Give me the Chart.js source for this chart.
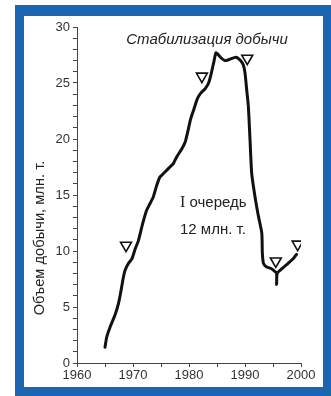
<!DOCTYPE html>
<html>
<head>
<meta charset="utf-8">
<script src="https://cdn.jsdelivr.net/npm/chart.js@4/dist/chart.umd.min.js"></script>
<style>
  html, body { margin: 0; padding: 0; background: #fff; }
  #wrap { position: relative; width: 331px; height: 396px; overflow: hidden; }
  #frame { position: absolute; left: 15px; top: 5px; width: 316px; height: 391px; background: #1b65b1; }
  #inner { position: absolute; left: 9px; top: 11px; right: 8px; bottom: 9px; background: #fff; }
  canvas { position: absolute; left: 0; top: 0; }
</style>
</head>
<body>
<div id="wrap">
  <div id="frame"><div id="inner"></div></div>
  <canvas id="c" width="331" height="396"></canvas>
</div>
<script>
// Production curve (years, mln t)
const years = [1965.0,1965.3,1965.9,1966.8,1967.4,1967.8,1968.3,1968.6,1969.2,1969.8,1970.4,1970.95,1971.7,1972.4,1973.0,1973.6,1974.2,1974.8,1975.4,1976.0,1976.6,1977.2,1977.8,1978.7,1979.3,1979.8,1980.3,1980.9,1981.5,1982.1,1982.9,1983.5,1983.9,1984.4,1984.8,1985.1,1985.6,1986.4,1987.2,1988.4,1989.2,1989.7,1990.0,1990.3,1990.6,1990.9,1991.2,1991.8,1992.4,1993.0,1993.1,1993.3,1993.8,1994.8,1995.5,1995.65,1995.65,1995.75,1996.55,1997.7,1998.6,1999.2];
const production = [1.4,2.3,3.2,4.3,5.3,6.3,7.7,8.3,8.9,9.3,10.2,10.9,12.4,13.6,14.2,14.8,15.8,16.6,16.9,17.2,17.5,17.8,18.4,19.1,19.7,20.7,21.8,22.7,23.6,24.1,24.5,25.0,25.7,26.8,27.7,27.6,27.3,27.0,27.1,27.3,27.0,26.6,25.9,24.4,22.9,19.9,16.9,14.8,13.1,11.6,9.8,8.9,8.6,8.4,8.1,8.0,7.0,8.0,8.4,8.9,9.3,9.7];
// Stage markers (inverted triangles)
const markerYears = [1968.75,1982.3,1990.4,1995.5,1999.4];
const markerValues = [10.5,25.6,27.2,9.1,10.6];
// Axis ticks
const xTickLabels = [1960,1970,1980,1990,2000];
const yTickLabels = [0,5,10,15,20,25,30];
// Texts
const yTitle = 'Объем добычи, млн. т.';
const stabText = 'Стабилизация добычи';
const stageText = ['I', ' очередь'];
const stageAmount = '12 млн. т.';

const lineData = years.map((x, i) => ({ x: x, y: production[i] }));
const markerData = markerYears.map((x, i) => ({ x: x, y: markerValues[i] }));

const textPlugin = {
  id: 'texts',
  afterDraw(chart) {
    const ctx = chart.ctx;
    ctx.save();
    ctx.fillStyle = '#222';
    ctx.textBaseline = 'middle';
    // stabilization label
    ctx.font = 'italic 15px "Liberation Sans", Arial, sans-serif';
    ctx.textAlign = 'center';
    ctx.fillText(stabText, 207, 40);
    // stage label
    ctx.textAlign = 'left';
    ctx.font = '16px "Liberation Serif", "Times New Roman", serif';
    ctx.fillText(stageText[0], 180, 203);
    const w = ctx.measureText(stageText[0]).width;
    ctx.font = '15px "Liberation Sans", Arial, sans-serif';
    ctx.fillText(stageText[1], 180 + w, 203);
    ctx.fillText(stageAmount, 180, 230);
    // y title
    ctx.translate(40, 238);
    ctx.rotate(-Math.PI / 2);
    ctx.textAlign = 'center';
    ctx.font = '14.7px "Liberation Sans", Arial, sans-serif';
    ctx.fillText(yTitle, 0, 0);
    ctx.restore();
  }
};

new Chart(document.getElementById('c'), {
  type: 'scatter',
  data: {
    datasets: [
      {
        data: lineData,
        showLine: true,
        borderColor: '#111',
        borderWidth: 3,
        pointRadius: 0,
        tension: 0.2,
        borderJoinStyle: 'round',
        borderCapStyle: 'round'
      },
      {
        data: markerData,
        showLine: false,
        pointStyle: 'triangle',
        rotation: 180,
        radius: 6.3,
        pointRadius: 6.3,
        pointBorderWidth: 1.6,
        pointBorderColor: '#111',
        pointBackgroundColor: '#fff'
      }
    ]
  },
  options: {
    responsive: false,
    animation: false,
    events: [],
    layout: { padding: { left: 0, top: 27, right: 30, bottom: 0 } },
    plugins: { legend: { display: false }, tooltip: { enabled: false } },
    scales: {
      x: {
        type: 'linear',
        min: 1960, max: 2000,
        afterFit: s => { s.height = 33; },
        grid: { drawOnChartArea: false, drawTicks: true, tickLength: 4, color: '#444', lineWidth: 1 },
        border: { display: true, color: '#444', width: 1 },
        ticks: {
          stepSize: 5, autoSkip: false, maxRotation: 0, padding: 1,
          color: '#333', font: { family: '"Liberation Sans", Arial, sans-serif', size: 13 },
          callback: v => xTickLabels.includes(v) ? String(v) : ''
        }
      },
      y: {
        min: 0, max: 30,
        afterFit: s => { s.width = 77; },
        grid: { drawOnChartArea: false, drawTicks: true, tickLength: 4, color: '#444', lineWidth: 1 },
        border: { display: true, color: '#444', width: 1 },
        ticks: {
          stepSize: 1, autoSkip: false, padding: 3,
          color: '#333', font: { family: '"Liberation Sans", Arial, sans-serif', size: 13 },
          callback: v => yTickLabels.includes(v) ? String(v) : ''
        }
      }
    }
  },
  plugins: [textPlugin]
});
</script>
</body>
</html>
